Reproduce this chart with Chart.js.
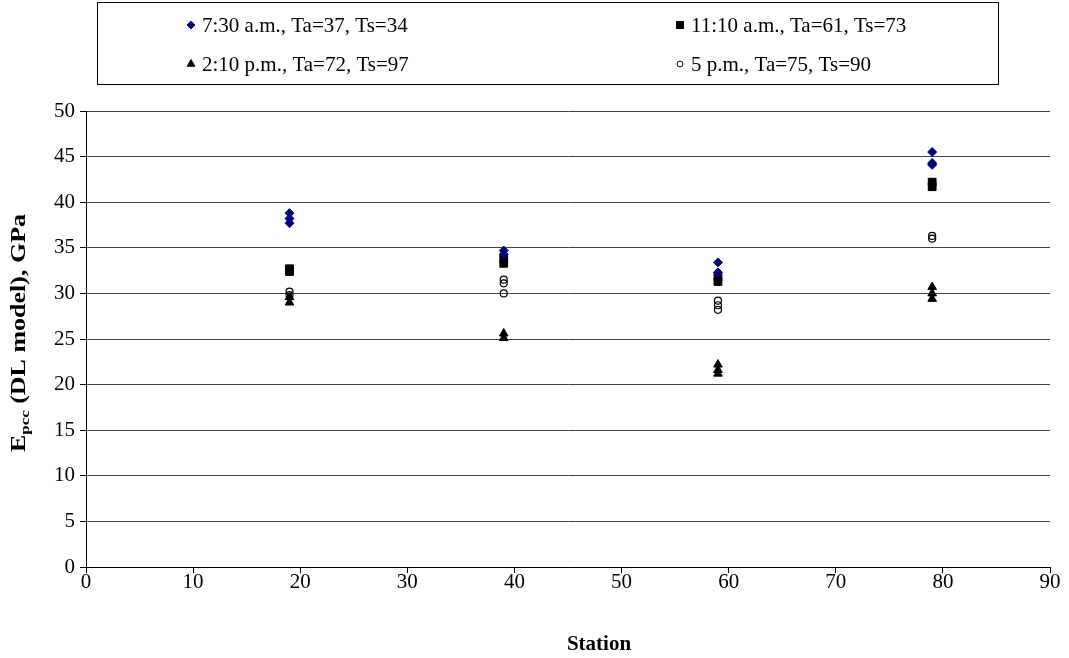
<!DOCTYPE html>
<html>
<head>
<meta charset="utf-8">
<script src="https://cdn.jsdelivr.net/npm/chart.js@4"></script>
<style>
  html, body { margin: 0; padding: 0; background: #fff; }
  #wrap { width: 1069px; height: 658px; }
</style>
</head>
<body>
<div id="wrap"><canvas id="myChart" width="1069" height="658"></canvas></div>
<script>
// readings, grouped by time of day
var seriesNames = ['7:30 a.m., Ta=37, Ts=34', '11:10 a.m., Ta=61, Ts=73', '2:10 p.m., Ta=72, Ts=97', '5 p.m., Ta=75, Ts=90'];
var stations = [19, 39, 59, 79];
var morning = [[38.8, 38.2, 37.7], [34.7, 34.3], [33.4, 32.3], [45.5, 44.3, 44.1]];
var lateMorning = [[32.7, 32.4], [33.8, 33.3], [31.8, 31.3], [42.2, 41.7]];
var afternoon = [[29.6, 29.0], [25.6, 25.1], [22.2, 21.6, 21.2], [30.7, 30.0, 29.4]];
var evening = [[30.2, 29.8], [31.5, 31.1, 30.0], [29.2, 28.7, 28.2], [36.3, 36.0]];
var xTicks = [0, 10, 20, 30, 40, 50, 60, 70, 80, 90];
var yTicks = [0, 5, 10, 15, 20, 25, 30, 35, 40, 45, 50];
var xTitleText = 'Station';

var serif = "'Liberation Serif', 'Times New Roman', serif";

function toPoints(groups) {
    var pts = [];
    for (var i = 0; i < groups.length; i++) {
        for (var j = 0; j < groups[i].length; j++) {
            pts.push({x: stations[i], y: groups[i][j]});
        }
    }
    return pts;
}

// legend drawn in a framed box, two columns like the original
var boxLegend = {
    id: 'boxLegend',
    afterDraw: function (chart) {
        var ctx = chart.ctx;
        ctx.save();
        ctx.strokeStyle = '#000';
        ctx.lineWidth = 1;
        ctx.strokeRect(97.5, 2.5, 901, 82);
        var colX = [191, 680];
        var rowY = [25, 64];
        ctx.font = '21px ' + serif;
        ctx.textBaseline = 'middle';
        chart.data.datasets.forEach(function (ds, i) {
            var x = colX[i % 2], y = rowY[Math.floor(i / 2)];
            ctx.fillStyle = ds.backgroundColor;
            ctx.strokeStyle = ds.borderColor;
            ctx.lineWidth = 1;
            Chart.helpers.drawPoint(ctx, {pointStyle: ds.pointStyle, radius: ds.legendRadius, borderWidth: 1}, x, y);
            ctx.fillStyle = '#000';
            ctx.fillText(ds.label, x + 11, y + 1);
        });
        ctx.restore();
    }
};

// axis titles; the y one carries the "pcc" subscript
var axisTitles = {
    id: 'axisTitles',
    afterDraw: function (chart) {
        var ctx = chart.ctx;
        var big = 'bold 20px ' + serif, small = 'bold 13px ' + serif;
        var parts = [['E', big, 0], ['pcc', small, 4], [' (DL model), GPa', big, 0]];
        var total = 0;
        parts.forEach(function (p) { ctx.font = p[1]; total += ctx.measureText(p[0]).width; });
        ctx.save();
        ctx.translate(25, 333);
        ctx.rotate(-Math.PI / 2);
        ctx.scale(1.3, 1);
        ctx.fillStyle = '#000';
        ctx.textBaseline = 'alphabetic';
        var x = -total / 2;
        parts.forEach(function (p) {
            ctx.font = p[1];
            ctx.fillText(p[0], x, p[2]);
            x += ctx.measureText(p[0]).width;
        });
        ctx.restore();

        ctx.save();
        ctx.font = 'bold 21px ' + serif;
        ctx.fillStyle = '#000';
        ctx.textAlign = 'center';
        ctx.textBaseline = 'middle';
        ctx.fillText(xTitleText, 599, 645);
        ctx.restore();
    }
};

var ctx = document.getElementById('myChart').getContext('2d');
var myChart = new Chart(ctx, {
    type: 'scatter',
    data: {
        datasets: [{
            label: seriesNames[0],
            data: toPoints(morning),
            pointStyle: 'rectRot',
            pointRadius: 4.5,
            legendRadius: 4,
            backgroundColor: '#000080',
            borderColor: '#000080',
            borderWidth: 1
        }, {
            label: seriesNames[1],
            data: toPoints(lateMorning),
            pointStyle: 'rect',
            pointRadius: 5.5,
            legendRadius: 5,
            backgroundColor: '#000',
            borderColor: '#000',
            borderWidth: 1
        }, {
            label: seriesNames[2],
            data: toPoints(afternoon),
            pointStyle: 'triangle',
            pointRadius: 5,
            legendRadius: 4.5,
            backgroundColor: '#000',
            borderColor: '#000',
            borderWidth: 1
        }, {
            label: seriesNames[3],
            data: toPoints(evening),
            pointStyle: 'circle',
            pointRadius: 3.5,
            legendRadius: 3,
            backgroundColor: 'rgba(0,0,0,0)',
            borderColor: '#000',
            borderWidth: 1.2
        }]
    },
    options: {
        responsive: false,
        animation: false,
        layout: {padding: {top: 111, left: 0, right: 19, bottom: 0}},
        plugins: {
            legend: {display: false},
            tooltip: {enabled: false}
        },
        scales: {
            x: {
                type: 'linear',
                min: 0, max: 90,
                afterBuildTicks: function (scale) { scale.ticks = xTicks.map(function (v) { return {value: v}; }); },
                afterFit: function (scale) { scale.height = 91; },
                grid: {drawOnChartArea: false, drawTicks: true, tickLength: 6, color: '#000'},
                border: {color: '#000', width: 1},
                ticks: {color: '#000', font: {family: serif, size: 21}, padding: -3, maxRotation: 0}
            },
            y: {
                min: 0, max: 50,
                afterBuildTicks: function (scale) { scale.ticks = yTicks.map(function (v) { return {value: v}; }); },
                afterFit: function (scale) { scale.width = 86; },
                grid: {color: '#444', tickLength: 6, tickColor: '#000'},
                border: {color: '#000', width: 1},
                ticks: {color: '#000', font: {family: serif, size: 21}, padding: 5}
            }
        }
    },
    plugins: [boxLegend, axisTitles]
});
</script>
</body>
</html>
